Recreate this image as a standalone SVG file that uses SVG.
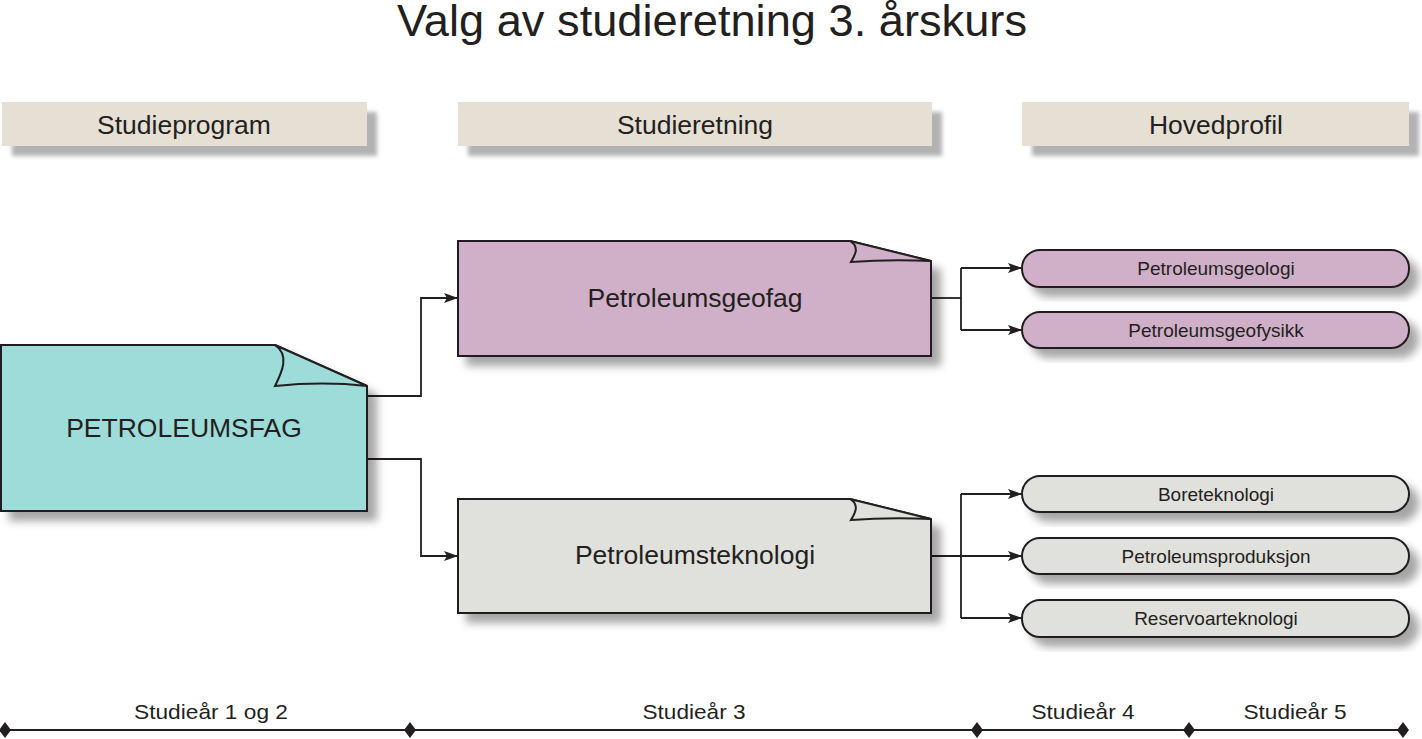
<svg xmlns="http://www.w3.org/2000/svg" width="1422" height="739" viewBox="0 0 1422 739">
<style>
text{font-family:"Liberation Sans",Arial,sans-serif;fill:#231f20;text-anchor:middle}
.hdr{fill:#e6e0d4}
.node{stroke:#231f20;stroke-width:2}
.conn{fill:none;stroke:#231f20;stroke-width:1.8}
.t24{font-size:26.5px}
.t18{font-size:19px}
.tl{font-size:21px}
</style>
<defs>
<filter id="sh" x="-10%" y="-20%" width="130%" height="160%">
<feDropShadow dx="9" dy="9" stdDeviation="4" flood-color="#000" flood-opacity="0.35"/>
</filter>
<filter id="shh" x="-10%" y="-30%" width="130%" height="180%">
<feDropShadow dx="10" dy="10" stdDeviation="2" flood-color="#000" flood-opacity="0.3"/>
</filter>
<marker id="ar" markerWidth="14" markerHeight="10" refX="13" refY="5" orient="auto" markerUnits="userSpaceOnUse">
<path d="M0,0 L14,5 L0,10 L3,5 Z" fill="#231f20"/>
</marker>
<path id="dia" d="M0,-8 L6,0 L0,8 L-6,0 Z" fill="#231f20"/>
</defs>

<text x="712" y="36" style="font-size:44px" textLength="630" lengthAdjust="spacingAndGlyphs">Valg av studieretning 3. årskurs</text>

<g id="header-studieprogram">
<rect class="hdr" x="2" y="102" width="365" height="44" filter="url(#shh)"/>
<text class="t24" x="184" y="134">Studieprogram</text>
</g>
<g id="header-studieretning">
<rect class="hdr" x="458" y="102" width="474" height="44" filter="url(#shh)"/>
<text class="t24" x="695" y="134">Studieretning</text>
</g>
<g id="header-hovedprofil">
<rect class="hdr" x="1022" y="102" width="387" height="44" filter="url(#shh)"/>
<text class="t24" x="1216" y="134">Hovedprofil</text>
</g>

<g id="connectors">
<path class="conn" d="M367,396 H421 V298 H457" marker-end="url(#ar)"/>
<path class="conn" d="M367,459 H421 V556 H457" marker-end="url(#ar)"/>
<path class="conn" d="M931,298 H961"/>
<path class="conn" d="M961,268 V330"/>
<path class="conn" d="M961,268 H1021" marker-end="url(#ar)"/>
<path class="conn" d="M961,330 H1021" marker-end="url(#ar)"/>
<path class="conn" d="M931,556 H1021" marker-end="url(#ar)"/>
<path class="conn" d="M961,494 V618"/>
<path class="conn" d="M961,494 H1021" marker-end="url(#ar)"/>
<path class="conn" d="M961,618 H1021" marker-end="url(#ar)"/>
</g>

<g id="node-petroleumsfag">
<path class="node" fill="#9ddcd9" filter="url(#sh)" d="M1,345 H275 L367,386 V511 H1 Z"/>
<path class="node" fill="#9ddcd9" d="M275,345 C290,355 282,372 275,386 C305,383 340,383 367,386 Z"/>
<text x="184" y="437" style="font-size:26.5px">PETROLEUMSFAG</text>
</g>

<g id="node-petroleumsgeofag">
<path class="node" fill="#d0b0c8" filter="url(#sh)" d="M458,241 H850 L931,261 V356 H458 Z"/>
<path class="node" fill="#d0b0c8" d="M850,241 C860,247 855,255 851,262 C878,260 905,260 931,261 Z"/>
<text x="695" y="307" style="font-size:26.5px">Petroleumsgeofag</text>
</g>

<g id="node-petroleumsteknologi">
<path class="node" fill="#e0e0dc" filter="url(#sh)" d="M458,499 H850 L931,519 V613 H458 Z"/>
<path class="node" fill="#e0e0dc" d="M850,499 C860,505 855,513 851,520 C878,518 905,518 931,519 Z"/>
<text x="695" y="564" style="font-size:26.5px">Petroleumsteknologi</text>
</g>

<g id="node-petroleumsgeologi">
<rect class="node" fill="#d0b0c8" filter="url(#sh)" x="1022" y="250" width="387" height="37" rx="18"/>
<text class="t18" x="1216" y="275">Petroleumsgeologi</text>
</g>
<g id="node-petroleumsgeofysikk">
<rect class="node" fill="#d0b0c8" filter="url(#sh)" x="1022" y="312" width="387" height="36" rx="18"/>
<text class="t18" x="1216" y="337">Petroleumsgeofysikk</text>
</g>
<g id="node-boreteknologi">
<rect class="node" fill="#e0e0dc" filter="url(#sh)" x="1022" y="476" width="387" height="36" rx="18"/>
<text class="t18" x="1216" y="501">Boreteknologi</text>
</g>
<g id="node-petroleumsproduksjon">
<rect class="node" fill="#e0e0dc" filter="url(#sh)" x="1022" y="538" width="387" height="36" rx="18"/>
<text class="t18" x="1216" y="563">Petroleumsproduksjon</text>
</g>
<g id="node-reservoarteknologi">
<rect class="node" fill="#e0e0dc" filter="url(#sh)" x="1022" y="600" width="387" height="37" rx="18"/>
<text class="t18" x="1216" y="625">Reservoarteknologi</text>
</g>

<g id="timeline">
<line x1="5" y1="730" x2="1403" y2="730" stroke="#231f20" stroke-width="2"/>
<use href="#dia" x="5" y="730"/>
<use href="#dia" x="410" y="730"/>
<use href="#dia" x="977" y="730"/>
<use href="#dia" x="1189" y="730"/>
<use href="#dia" x="1403" y="730"/>
<text class="tl" x="211" y="719" textLength="154" lengthAdjust="spacingAndGlyphs">Studieår 1 og 2</text>
<text class="tl" x="694" y="719" textLength="103" lengthAdjust="spacingAndGlyphs">Studieår 3</text>
<text class="tl" x="1083" y="719" textLength="103" lengthAdjust="spacingAndGlyphs">Studieår 4</text>
<text class="tl" x="1295" y="719" textLength="103" lengthAdjust="spacingAndGlyphs">Studieår 5</text>
</g>
</svg>
